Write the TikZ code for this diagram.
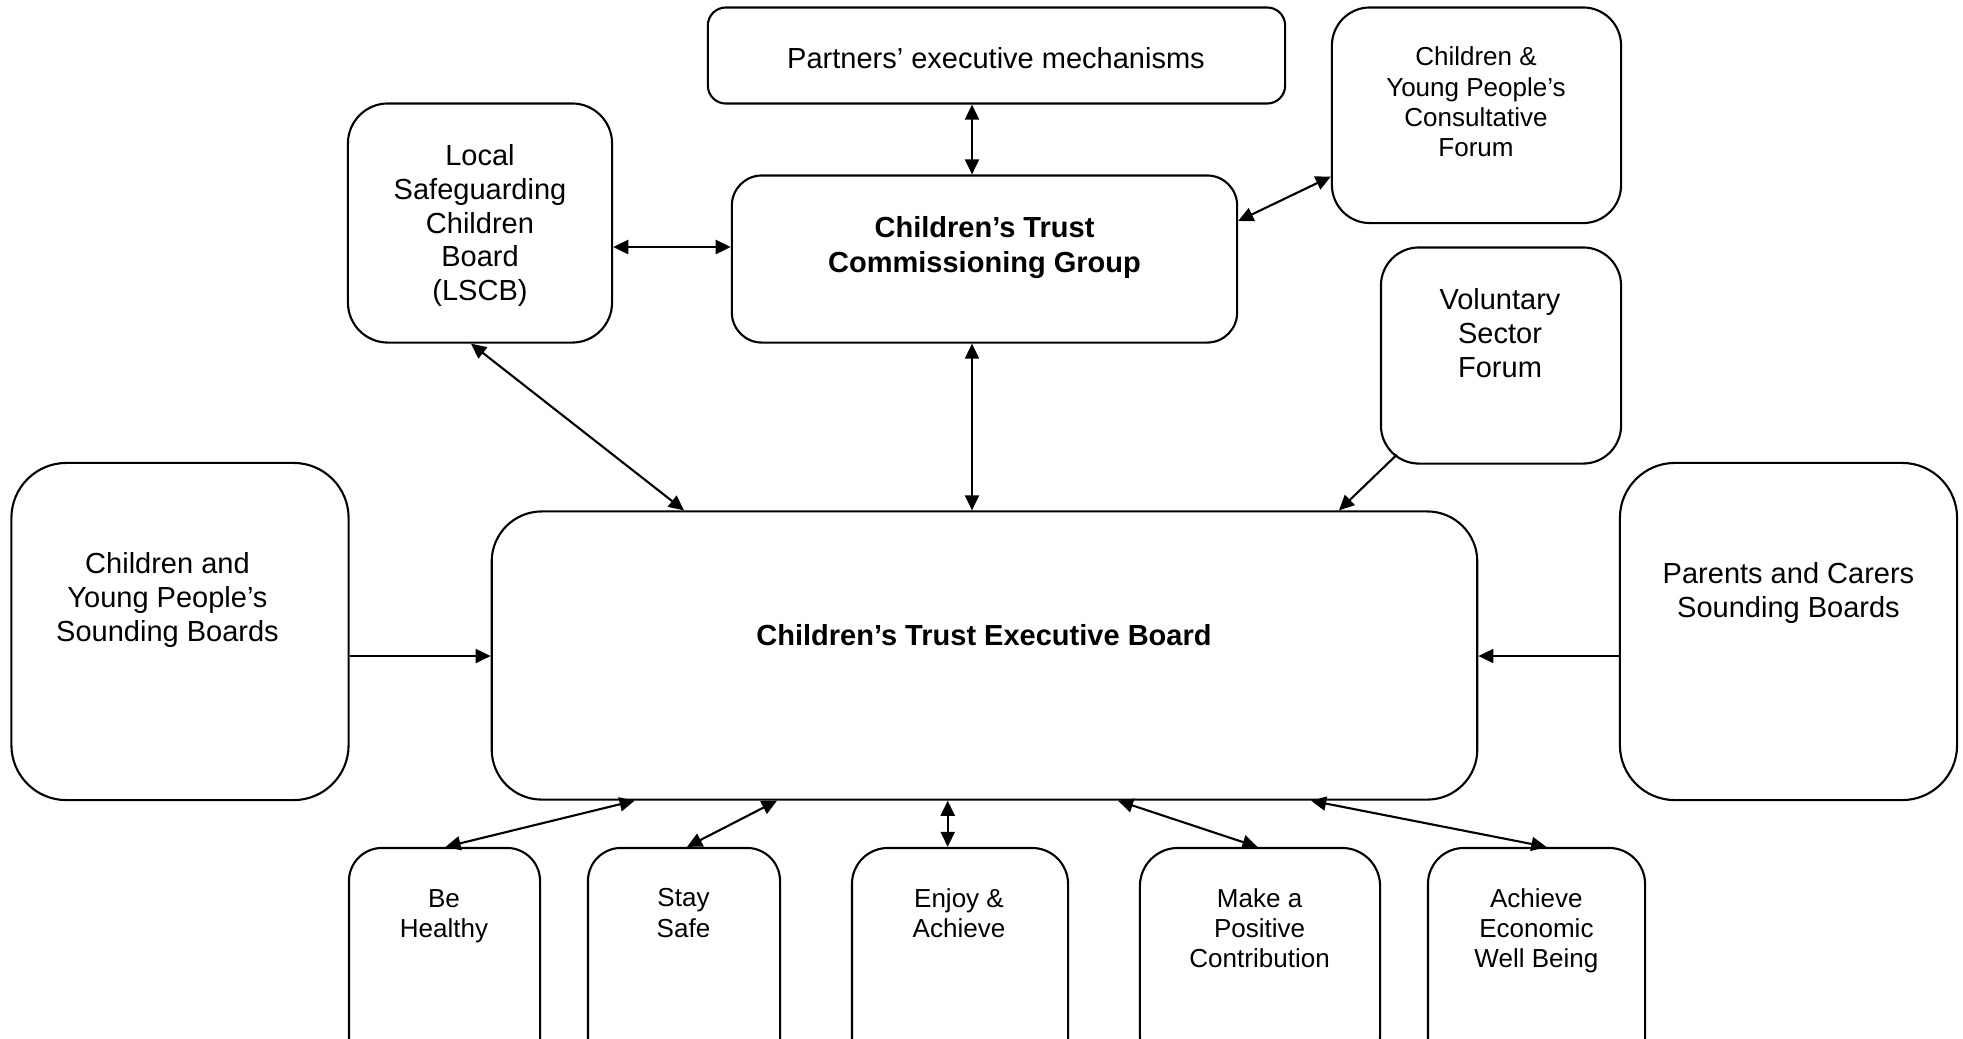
\documentclass[tikz,border=0pt]{standalone}
\usepackage{fontspec}
\setmainfont{Liberation Sans}
\usetikzlibrary{arrows.meta}
\begin{document}
\begin{tikzpicture}[x=0.01cm,y=-0.01cm,
  box/.style={draw, line width=0.6pt, inner sep=0pt},
  lbl/.style={align=center, inner sep=0pt, font=\fontsize{8.25pt}{9.6pt}\selectfont},
  slbl/.style={align=center, inner sep=0pt, font=\fontsize{7.4pt}{8.6pt}\selectfont},
  blbl/.style={align=center, inner sep=0pt, font=\fontsize{8.25pt}{10pt}\selectfont\bfseries},
  link/.style={line width=0.6pt, {Triangle[length=4.3pt,width=4pt]}-{Triangle[length=4.3pt,width=4pt]}},
  onelink/.style={line width=0.6pt, -{Triangle[length=4.3pt,width=4pt]}}]
\useasboundingbox (0,0) rectangle (1963,1038);
\clip (0,0) rectangle (1963,1038);

% boxes
\node[box, minimum width=5.77cm, minimum height=0.96cm, rounded corners=0.18cm] (partners) at (996.5,55.5) {};
\node[box, minimum width=2.64cm, minimum height=2.39cm, rounded corners=0.4cm] (lscb) at (480,223) {};
\node[box, minimum width=5.05cm, minimum height=1.67cm, rounded corners=0.3cm] (comm) at (984.5,259) {};
\node[box, minimum width=2.89cm, minimum height=2.155cm, rounded corners=0.38cm] (cypf) at (1476.5,115.25) {};
\node[box, minimum width=2.40cm, minimum height=2.16cm, rounded corners=0.38cm] (vol) at (1501,355.5) {};
\node[box, minimum width=3.37cm, minimum height=3.37cm, rounded corners=0.55cm] (cyps) at (180,631.5) {};
\node[box, minimum width=3.37cm, minimum height=3.37cm, rounded corners=0.55cm] (par) at (1788.5,631.5) {};
\node[box, minimum width=9.85cm, minimum height=2.88cm, rounded corners=0.5cm] (exec) at (984.5,655.5) {};
\node[box, minimum width=1.91cm, minimum height=2.27cm, rounded corners=0.33cm] (be) at (444.5,961.5) {};
\node[box, minimum width=1.92cm, minimum height=2.27cm, rounded corners=0.33cm] (stay) at (684,961.5) {};
\node[box, minimum width=2.16cm, minimum height=2.27cm, rounded corners=0.36cm] (enjoy) at (960,961.5) {};
\node[box, minimum width=2.40cm, minimum height=2.27cm, rounded corners=0.38cm] (make) at (1260,961.5) {};
\node[box, minimum width=2.17cm, minimum height=2.27cm, rounded corners=0.36cm] (ach) at (1536.5,961.5) {};

% texts
\node[lbl] (tpartners) at (996,58.5) {Partners’ executive mechanisms};
\node[lbl] (tlscb) at (480,225.5) {Local\\Safeguarding\\Children\\Board\\(LSCB)};
\node[blbl] (tcomm) at (984.5,247.5) {Children’s Trust\\Commissioning Group};
\node[slbl] (tcypf) at (1476,102) {Children \&\\Young People’s\\Consultative\\Forum};
\node[lbl] (tvol) at (1500,333) {Voluntary\\Sector\\Forum};
\node[lbl] (tcyps) at (167.5,600) {Children and\\Young People’s\\Sounding Boards};
\node[lbl] (tpar) at (1788.5,593) {Parents and Carers\\Sounding Boards};
\node[blbl] (texec) at (984,635) {Children’s Trust Executive Board};
\node[slbl] (tbe) at (444,916) {Be\\Healthy};
\node[slbl] (tstay) at (683.5,913) {Stay\\Safe};
\node[slbl] (tenjoy) at (959,913) {Enjoy \&\\Achieve};
\node[slbl] (tmake) at (1259.6,928) {Make a\\Positive\\Contribution};
\node[slbl] (tach) at (1536.4,931) {Achieve\\Economic\\Well Being};

% connectors
\draw[link] (partners.south -| 972,0) -- (comm.north -| 972,0);
\draw[link] (lscb.east |- 0,247) -- (comm.west |- 0,247);
\draw[link] (comm.east |- 0,221) -- (cypf.west |- 0,176.5);
\draw[link] (lscb.south -| 471,0) -- (exec.north -| 684,0);
\draw[link] (comm.south -| 972,0) -- (exec.north -| 972,0);
\draw[onelink] ([shift={(17,-10)}]vol.south west) -- (exec.north -| 1339,0);
\draw[onelink] (cyps.east |- 0,656) -- (exec.west |- 0,656);
\draw[onelink] (par.west |- 0,656) -- (exec.east |- 0,656);
\draw[link] (exec.south -| 634.7,0) -- (be.north -| 445.5,0);
\draw[link] (exec.south -| 777,0) -- (stay.north -| 687,0);
\draw[link] (exec.south -| 947.7,0) -- (enjoy.north -| 947.7,0);
\draw[link] (exec.south -| 1118,0) -- (make.north -| 1257.5,0);
\draw[link] (exec.south -| 1311,0) -- (ach.north -| 1546.4,0);
\end{tikzpicture}
\end{document}
